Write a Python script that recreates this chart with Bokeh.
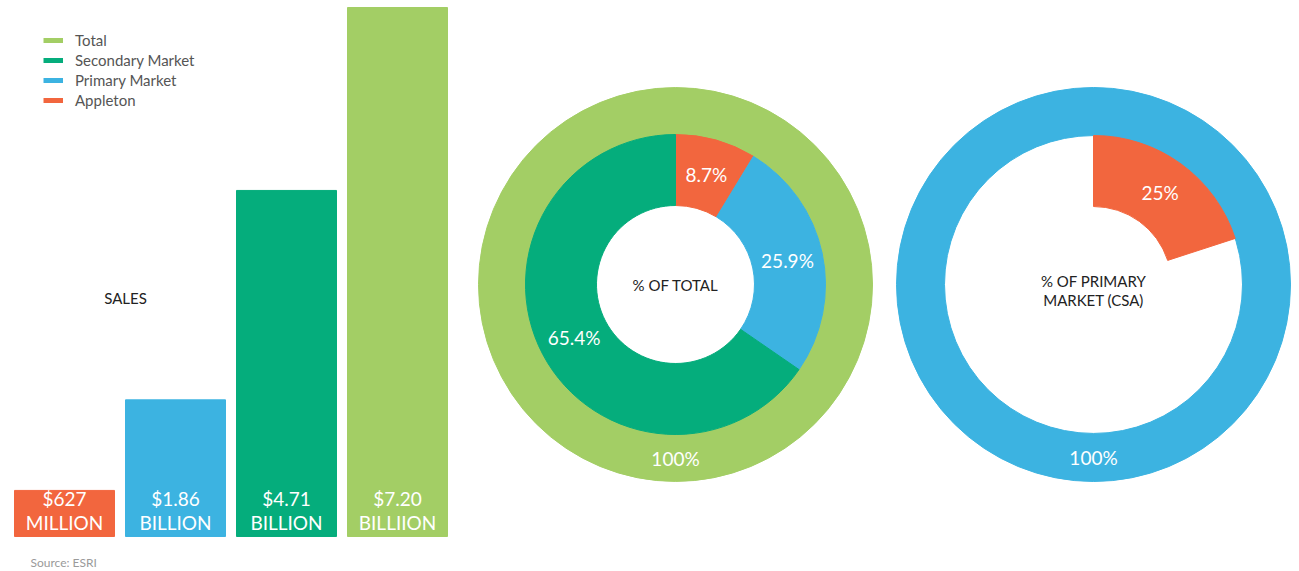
import math
from bokeh.plotting import figure
from bokeh.models import Range1d, Legend, LegendItem, Label, ColumnDataSource
from bokeh.layouts import row
from bokeh.core.properties import value
from bokeh.embed import file_html
from bokeh.resources import INLINE

# ---------------- data ----------------
bar_names = ["Appleton", "Primary Market", "Secondary Market", "Total"]
bar_values = [0.627, 1.86, 4.71, 7.20]  # billions
bar_text_top = ["$627", "$1.86", "$4.71", "$7.20"]
bar_text_bottom = ["MILLION", "BILLION", "BILLION", "BILLIION"]

legend_names = ["Total", "Secondary Market", "Primary Market", "Appleton"]

total_names = ["Appleton", "Primary Market", "Secondary Market"]
total_shares = [8.7, 25.9, 65.4]
total_labels = ["8.7%", "25.9%", "65.4%"]
outer_label = "100%"

csa_names = ["Appleton"]
csa_shares = [20.0]          # sweep as drawn in the picture
csa_labels = ["25%"]

# ---------------- style ----------------
COL = {"Total": "#A3CE65", "Secondary Market": "#05AD7C",
       "Primary Market": "#3CB3E1", "Appleton": "#F2663E"}
FONT = "Lato"
H = 571

def bare(p):
    p.axis.visible = False
    p.xgrid.visible = False
    p.ygrid.visible = False
    p.outline_line_color = None
    p.min_border = 0
    p.background_fill_color = None
    p.border_fill_color = None

# ---------------- bars ----------------
pa = figure(width=468, height=H, output_backend="svg", toolbar_location=None,
            x_range=Range1d(-0.5766, 3.6396), y_range=Range1d(-0.4764, 7.2953))
bare(pa)
xs = list(range(len(bar_values)))
src = ColumnDataSource(dict(x=xs, top=bar_values, color=[COL[n] for n in bar_names],
                            t1=bar_text_top, t2=bar_text_bottom, zero=[0] * len(xs)))
pa.vbar(x="x", top="top", bottom=0, width=0.9009, color="color", source=src)
pa.text(x="x", y="zero", text="t1", source=src, y_offset=-38, text_align="center",
        text_baseline="middle", text_color="white", text_font=value(FONT),
        text_font_size="19px")
pa.text(x="x", y="zero", text="t2", source=src, y_offset=-14, text_align="center",
        text_baseline="middle", text_color="white", text_font=value(FONT),
        text_font_size="19px")

items = []
for n in legend_names:
    r = pa.line(x=[math.nan], y=[math.nan], line_color=COL[n], line_width=5)
    items.append(LegendItem(label=n, renderers=[r]))
leg = Legend(items=items, location=(43, 461), padding=0, margin=0, spacing=0,
             glyph_width=20, glyph_height=20, label_height=20, label_standoff=12,
             label_text_font=FONT, label_text_font_size="15px",
             label_text_color="#555555", border_line_color=None,
             background_fill_alpha=0)
pa.add_layout(leg, "center")

pa.add_layout(Label(x=125, y=H - 297, x_units="screen", y_units="screen", text="SALES",
                    text_align="center", text_baseline="middle", text_font=FONT,
                    text_font_size="15px", text_color="#222222"))
pa.add_layout(Label(x=30, y=H - 562, x_units="screen", y_units="screen",
                    text="Source: ESRI", text_align="left", text_baseline="middle",
                    text_font=FONT, text_font_size="12px", text_color="#9a9a9a"))

# ---------------- donut: % of total ----------------
def wedges(shares):
    starts, ends, mids = [], [], []
    cum = 0.0
    for s in shares:
        a0 = math.pi / 2 - 2 * math.pi * cum / 100
        cum += s
        a1 = math.pi / 2 - 2 * math.pi * cum / 100
        starts.append(a0); ends.append(a1); mids.append((a0 + a1) / 2)
    return starts, ends, mids

pb = figure(width=416, height=H, output_backend="svg", toolbar_location=None,
            x_range=Range1d(-207, 209), y_range=Range1d(-287, 284))
bare(pb)
R_IN, R_MID, R_OUT = 79, 150, 197
pb.annular_wedge(x=0, y=0, inner_radius=R_MID, outer_radius=R_OUT, start_angle=0,
                 end_angle=2 * math.pi, color=COL["Total"])
s0, s1, sm = wedges(total_shares)
rl = (R_IN + R_MID) / 2
bsrc = ColumnDataSource(dict(start=s0, end=s1, color=[COL[n] for n in total_names],
                             lx=[rl * math.cos(a) for a in sm],
                             ly=[rl * math.sin(a) for a in sm], lab=total_labels))
pb.annular_wedge(x=0, y=0, inner_radius=R_IN, outer_radius=R_MID, start_angle="start",
                 end_angle="end", direction="clock", color="color", source=bsrc)
pb.text(x="lx", y="ly", text="lab", source=bsrc, text_align="center",
        text_baseline="middle", text_color="white", text_font=value(FONT),
        text_font_size="19px")
ro = (R_MID + R_OUT) / 2
pb.text(x=[0], y=[-ro], text=[outer_label], text_align="center", text_baseline="middle",
        text_color="white", text_font=value(FONT), text_font_size="19px")
pb.text(x=[0], y=[0], text=["% OF TOTAL"], text_align="center", text_baseline="middle",
        text_color="#222222", text_font=value(FONT), text_font_size="15px")

# ---------------- donut: % of primary market ----------------
pc = figure(width=415, height=H, output_backend="svg", toolbar_location=None,
            x_range=Range1d(-209, 206), y_range=Range1d(-287, 284))
bare(pc)
C_IN, C_MID, C_OUT = 78, 149, 197
pc.annular_wedge(x=0, y=0, inner_radius=C_MID, outer_radius=C_OUT, start_angle=0,
                 end_angle=2 * math.pi, color=COL["Primary Market"])
c0, c1, cm = wedges(csa_shares)
rc = (C_IN + C_MID) / 2
csrc = ColumnDataSource(dict(start=c0, end=c1, color=[COL[n] for n in csa_names],
                             lx=[rc * math.cos(a) for a in cm],
                             ly=[rc * math.sin(a) for a in cm], lab=csa_labels))
pc.annular_wedge(x=0, y=0, inner_radius=C_IN, outer_radius=C_MID, start_angle="start",
                 end_angle="end", direction="clock", color="color", source=csrc)
pc.text(x="lx", y="ly", text="lab", source=csrc, text_align="center",
        text_baseline="middle", text_color="white", text_font=value(FONT),
        text_font_size="19px")
rco = (C_MID + C_OUT) / 2
pc.text(x=[0], y=[-rco], text=[outer_label], text_align="center", text_baseline="middle",
        text_color="white", text_font=value(FONT), text_font_size="19px")
pc.text(x=[0, 0], y=[0, 0], y_offset=[-4, 15], text=["% OF PRIMARY", "MARKET (CSA)"],
        text_align="center", text_baseline="middle", text_color="#222222",
        text_font=value(FONT), text_font_size="15px")

layout = row(pa, pb, pc, spacing=0)
open("out.html", "w").write(file_html(layout, INLINE))
